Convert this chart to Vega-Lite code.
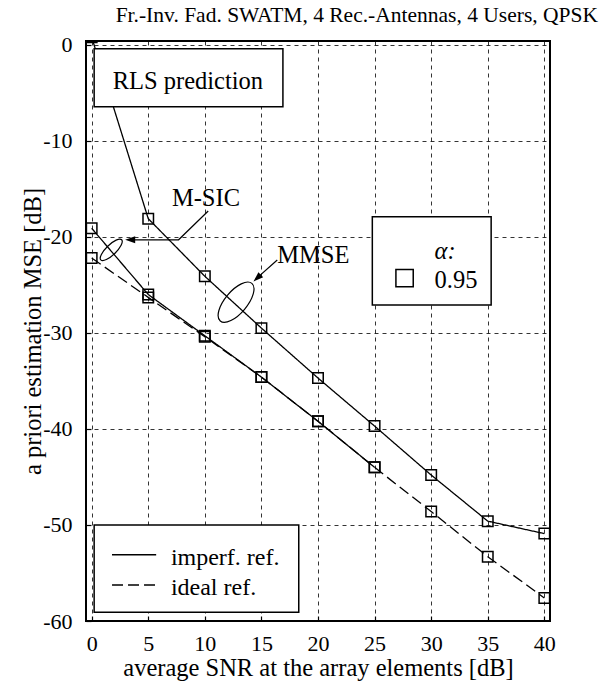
{
  "$schema": "https://vega.github.io/schema/vega-lite/v6.json",
  "width": 464,
  "height": 580,
  "autosize": "none",
  "padding": {"left": 86, "top": 41, "right": 58, "bottom": 61},
  "background": "white",
  "config": {
    "view": {"stroke": "black", "strokeWidth": 2},
    "font": "Liberation Serif",
    "axis": {
      "labelFont": "Liberation Serif", "labelFontSize": 22, "labelColor": "black",
      "titleFont": "Liberation Serif", "titleFontSize": 24.5, "titleFontWeight": "normal", "titleColor": "black",
      "domain": false, "grid": true, "gridColor": "black", "gridDash": [4, 4], "gridWidth": 0.8,
      "tickColor": "black", "tickSize": -5, "tickWidth": 1.2,
      "labelExpr": "replace(datum.label, '\u2212', '-')"
    }
  },
  "title": {
    "text": "Fr.-Inv. Fad. SWATM, 4 Rec.-Antennas, 4 Users, QPSK",
    "font": "Liberation Serif", "fontSize": 21.5, "fontWeight": "normal", "color": "black",
    "anchor": "end", "frame": "group", "dx": 48, "offset": 7
  },
  "datasets": {
    "curves": [
      {"curve": "MMSE", "ref": "imperf", "x": 0, "y": 0.8},
      {"curve": "MMSE", "ref": "imperf", "x": 5, "y": -18.1},
      {"curve": "MMSE", "ref": "imperf", "x": 10, "y": -24.1},
      {"curve": "MMSE", "ref": "imperf", "x": 15, "y": -29.5},
      {"curve": "MMSE", "ref": "imperf", "x": 20, "y": -34.7},
      {"curve": "MMSE", "ref": "imperf", "x": 25, "y": -39.7},
      {"curve": "MMSE", "ref": "imperf", "x": 30, "y": -44.8},
      {"curve": "MMSE", "ref": "imperf", "x": 35, "y": -49.6},
      {"curve": "MMSE", "ref": "imperf", "x": 40, "y": -50.9},
      {"curve": "MSIC imperf", "ref": "imperf", "x": 0, "y": -19.1},
      {"curve": "MSIC imperf", "ref": "imperf", "x": 5, "y": -26.0},
      {"curve": "MSIC imperf", "ref": "imperf", "x": 10, "y": -30.3},
      {"curve": "MSIC imperf", "ref": "imperf", "x": 15, "y": -34.6},
      {"curve": "MSIC imperf", "ref": "imperf", "x": 20, "y": -39.2},
      {"curve": "MSIC imperf", "ref": "imperf", "x": 25, "y": -44.0},
      {"curve": "MSIC ideal", "ref": "ideal", "x": 0, "y": -22.2},
      {"curve": "MSIC ideal", "ref": "ideal", "x": 5, "y": -26.3},
      {"curve": "MSIC ideal", "ref": "ideal", "x": 10, "y": -30.4},
      {"curve": "MSIC ideal", "ref": "ideal", "x": 15, "y": -34.6},
      {"curve": "MSIC ideal", "ref": "ideal", "x": 20, "y": -39.2},
      {"curve": "MSIC ideal", "ref": "ideal", "x": 25, "y": -44.0},
      {"curve": "MSIC ideal", "ref": "ideal", "x": 30, "y": -48.6},
      {"curve": "MSIC ideal", "ref": "ideal", "x": 35, "y": -53.3},
      {"curve": "MSIC ideal", "ref": "ideal", "x": 40, "y": -57.6}
    ],
    "arrows": [
      {"id": "msic", "o": 1, "x": 10.3, "y": -17.3},
      {"id": "msic", "o": 2, "x": 7.68, "y": -20.3},
      {"id": "msic", "o": 3, "x": 3.3, "y": -20.3},
      {"id": "mmse", "o": 1, "x": 16.4, "y": -22.4},
      {"id": "mmse", "o": 2, "x": 14.5, "y": -24.4}
    ],
    "boxes": [
      {"box": "rls", "x": 0.22, "x2": 16.9, "y": -0.42, "y2": -6.46},
      {"box": "alpha", "x": 24.8, "x2": 35.3, "y": -17.9, "y2": -27.1},
      {"box": "legend", "x": 0.22, "x2": 18.3, "y": -50.0, "y2": -59.1}
    ],
    "legendlines": [
      {"ref": "imperf", "x": 1.8, "y": -53.1},
      {"ref": "imperf", "x": 5.7, "y": -53.1},
      {"ref": "ideal", "x": 1.8, "y": -56.25},
      {"ref": "ideal", "x": 5.7, "y": -56.25}
    ]
  },
  "encoding": {
    "x": {
      "field": "x", "type": "quantitative",
      "scale": {"domain": [-0.5, 40.5], "nice": false, "zero": false},
      "axis": {"values": [0, 5, 10, 15, 20, 25, 30, 35, 40], "title": "average SNR at the array elements [dB]", "labelPadding": 17, "titlePadding": 2}
    },
    "y": {
      "field": "y", "type": "quantitative",
      "scale": {"domain": [-60, 0.4], "nice": false, "zero": false},
      "axis": {"values": [-60, -50, -40, -30, -20, -10, 0], "title": "a priori estimation MSE [dB]", "labelPadding": 19, "titlePadding": -3}
    }
  },
  "layer": [
    {
      "data": {"name": "curves"},
      "mark": {"type": "line", "clip": true, "color": "black", "strokeWidth": 1.3},
      "encoding": {
        "detail": {"field": "curve"},
        "strokeDash": {"field": "ref", "type": "nominal", "scale": {"domain": ["imperf", "ideal"], "range": [[1, 0], [11, 5]]}, "legend": null}
      }
    },
    {
      "data": {"name": "curves"},
      "mark": {"type": "point", "shape": "square", "size": 110, "filled": false, "color": "black", "strokeWidth": 1.5, "opacity": 1, "clip": true}
    },
    {
      "data": {"name": "arrows"},
      "mark": {"type": "line", "color": "black", "strokeWidth": 1.2},
      "encoding": {"detail": {"field": "id"}, "order": {"field": "o"}}
    },
    {
      "data": {"values": [{"x": 2.96, "y": -20.3}]},
      "mark": {"type": "point", "shape": "M0,0L-1,-0.35L-1,0.35Z", "size": 400, "filled": true, "color": "black", "opacity": 1, "angle": 180}
    },
    {
      "data": {"values": [{"x": 14.3, "y": -24.65}]},
      "mark": {"type": "point", "shape": "M0,0L-1,-0.35L-1,0.35Z", "size": 400, "filled": true, "color": "black", "opacity": 1, "angle": 137}
    },
    {
      "data": {"values": [{"x": 1.73, "y": -21.35}]},
      "mark": {"type": "point", "shape": "M-1,0A1,0.35,0,1,1,1,0A1,0.35,0,1,1,-1,0Z", "size": 841, "filled": false, "color": "black", "strokeWidth": 1.2, "opacity": 1, "angle": -44}
    },
    {
      "data": {"values": [{"x": 12.76, "y": -26.8}]},
      "mark": {"type": "point", "shape": "M-1,0A1,0.45,0,1,1,1,0A1,0.45,0,1,1,-1,0Z", "size": 2420, "filled": false, "color": "black", "strokeWidth": 1.2, "opacity": 1, "angle": -50}
    },
    {
      "data": {"name": "boxes"},
      "mark": {"type": "rect", "fill": "white", "stroke": "black", "strokeWidth": 1.5},
      "encoding": {"x2": {"field": "x2"}, "y2": {"field": "y2"}}
    },
    {
      "data": {"values": [{"label": "RLS prediction", "x": 8.5, "y": -4.58}, {"label": "M-SIC", "x": 10.1, "y": -16.8}]},
      "mark": {"type": "text", "align": "center", "baseline": "alphabetic", "font": "Liberation Serif", "fontSize": 24.5, "color": "black"},
      "encoding": {"text": {"field": "label"}}
    },
    {
      "data": {"values": [{"label": "MMSE", "x": 16.4, "y": -22.7}, {"label": "0.95", "x": 30.3, "y": -25.3}]},
      "mark": {"type": "text", "align": "left", "baseline": "alphabetic", "font": "Liberation Serif", "fontSize": 24.5, "color": "black"},
      "encoding": {"text": {"field": "label"}}
    },
    {
      "data": {"values": [{"label": "α:", "x": 30.3, "y": -22.3}]},
      "mark": {"type": "text", "align": "left", "baseline": "alphabetic", "font": "Liberation Serif", "fontStyle": "italic", "fontSize": 24.5, "color": "black"},
      "encoding": {"text": {"field": "label"}}
    },
    {
      "data": {"values": [{"x": 27.65, "y": -24.3}]},
      "mark": {"type": "point", "shape": "square", "size": 300, "filled": false, "color": "black", "strokeWidth": 1.5, "opacity": 1}
    },
    {
      "data": {"name": "legendlines"},
      "mark": {"type": "line", "color": "black", "strokeWidth": 1.3},
      "encoding": {
        "detail": {"field": "ref"},
        "strokeDash": {"field": "ref", "type": "nominal", "scale": {"domain": ["imperf", "ideal"], "range": [[1, 0], [11, 5]]}, "legend": null}
      }
    },
    {
      "data": {"values": [{"label": "imperf. ref.", "x": 7.0, "y": -54.2}, {"label": "ideal ref.", "x": 7.0, "y": -57.3}]},
      "mark": {"type": "text", "align": "left", "baseline": "alphabetic", "font": "Liberation Serif", "fontSize": 24, "color": "black"},
      "encoding": {"text": {"field": "label"}}
    }
  ]
}
